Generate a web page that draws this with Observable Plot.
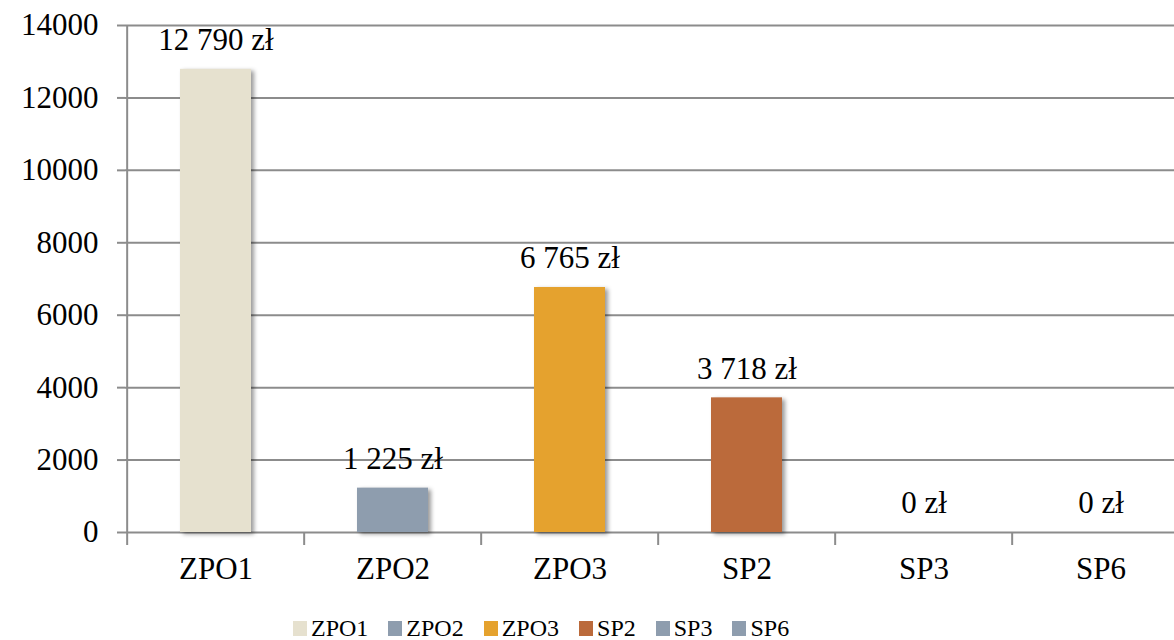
<!DOCTYPE html>
<html><head><meta charset="utf-8">
<script src="https://cdn.jsdelivr.net/npm/d3@7"></script>
<script src="https://cdn.jsdelivr.net/npm/@observablehq/plot@0.6"></script>
<style>
body{margin:0;background:#fff;width:1174px;height:640px;overflow:hidden;position:relative;}
body, #chart svg, #chart svg text, #legend, #legend span{font-family:'Liberation Serif', serif !important;}
#chart svg{display:block;}
g[aria-label="bar"] rect{filter:drop-shadow(3px 2px 2px rgba(0,0,0,0.4));}
#legend{display:flex;align-items:center;height:28px;margin-top:2px;padding-left:293px;font-size:24px;line-height:28px;color:#000;}
#legend .item{display:flex;align-items:center;margin-right:20px;}
#legend .sw{width:14px;height:15px;margin-right:4px;}
</style></head><body>
<div id="chart"></div><div id="legend"></div>
<script>
const categories = ["ZPO1","ZPO2","ZPO3","SP2","SP3","SP6"];
const values = [12790,1225,6765,3718,0,0];
const colors = ["#e6e1cf","#8e9dae","#e5a22e","#bb6a3b","#8e9dae","#8e9dae"];
const yTicks = [0,2000,4000,6000,8000,10000,12000,14000];

const data = categories.map((c,i)=>({cat:c, value:values[i]}));
const fmt = d3.formatLocale({decimal:",", thousands:" ", grouping:[3], currency:["","zł"]}).format(",d");

const W = 1174, H = 612, FS = 31;
const xRange = [125, 1191];
const step = (xRange[1]-xRange[0])/categories.length;
const tickLen = 13*14000/507;

const plot = Plot.plot({
  width: W, height: H,
  marginTop: 25, marginBottom: H-532, marginLeft: 125, marginRight: 0,
  style: {fontFamily: "Liberation Serif", fontSize: FS+"px", color: "#000", background: "#fff"},
  x: {type: "band", domain: categories, range: xRange, paddingInner: 0.6, paddingOuter: 0.3},
  y: {domain: [0,14000]},
  color: {domain: categories, range: colors},
  marks: [
    Plot.ruleY(yTicks, {stroke: "#8c8c8c", strokeWidth: 2}),
    Plot.ruleX(categories, {x: d=>d, dx: -step/2, y1: -tickLen, y2: (d,i)=> i===0 ? 14000 : 0, stroke: "#8c8c8c", strokeWidth: 2}),
    Plot.barY(data, {x: "cat", y: "value", fill: "cat"}),
    Plot.text(data, {x: "cat", y: "value", text: d=>fmt(d.value)+" zł", dy: -29, fontSize: FS, fill: "#000"}),
    Plot.axisY({ticks: yTicks, tickSize: 8, tickPadding: 19, tickFormat: d=>String(d), fontSize: FS, stroke: "#8c8c8c", strokeWidth: 2, fill: "#000", label: null}),
    Plot.axisX({tickSize: 0, tickPadding: 24, fontSize: FS, fill: "#000", label: null})
  ]
});
document.getElementById("chart").appendChild(plot);

const lg = document.getElementById("legend");
categories.forEach((c,i)=>{
  const it = document.createElement("div"); it.className="item";
  const sw = document.createElement("div"); sw.className="sw"; sw.style.background=colors[i];
  const t = document.createElement("span"); t.textContent=c;
  it.appendChild(sw); it.appendChild(t); lg.appendChild(it);
});
</script>
</body></html>
